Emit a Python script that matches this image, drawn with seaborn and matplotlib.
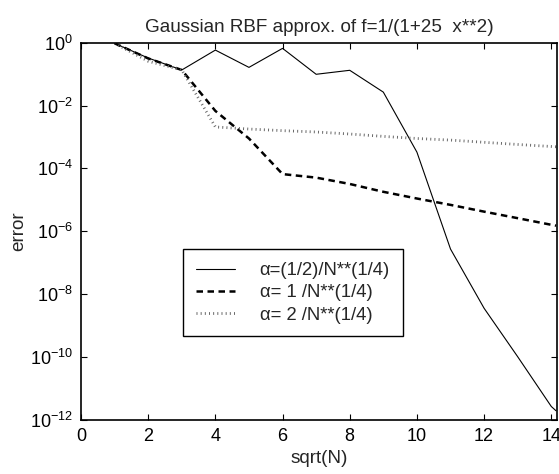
import numpy as np
import pandas as pd
import matplotlib
matplotlib.use("Agg")
import matplotlib.pyplot as plt
import seaborn as sns

# ---- data ----
x_vals = [1, 2, 3, 4, 5, 6, 7, 8, 9, 10, 11, 12, 13, 14, 14.14]
err_half = [0.97, 0.33, 0.137, 0.59, 0.166, 0.67, 0.10, 0.134, 0.027,
            3.3e-4, 2.7e-7, 3.5e-9, 1.0e-10, 2.6e-12, 1.9e-12]
err_one = [0.97, 0.32, 0.137, 6.8e-3, 9.0e-4, 6.6e-5, 5.1e-5, 3.2e-5, 1.8e-5,
           1.1e-5, 6.9e-6, 4.2e-6, 2.6e-6, 1.6e-6, 1.5e-6]
err_two = [0.97, 0.26, 0.137, 2.1e-3, 1.8e-3, 1.6e-3, 1.45e-3, 1.25e-3, 1.05e-3,
           9.0e-4, 8.0e-4, 6.8e-4, 5.8e-4, 5.0e-4, 4.9e-4]
labels = ["\u03b1=(1/2)/N**(1/4)", "\u03b1= 1 /N**(1/4)", "\u03b1= 2 /N**(1/4)"]
title = "Gaussian RBF approx. of f=1/(1+25  x**2)"
xlabel = "sqrt(N)"
ylabel = "error"
xticks = [0, 2, 4, 6, 8, 10, 12, 14]
yticks = [1e0, 1e-2, 1e-4, 1e-6, 1e-8, 1e-10, 1e-12]

df = pd.DataFrame({
    "x": x_vals * 3,
    "err": err_half + err_one + err_two,
    "series": [labels[0]] * len(x_vals) + [labels[1]] * len(x_vals) + [labels[2]] * len(x_vals),
})

sns.set_theme(style="ticks")
plt.rcParams["font.family"] = ["Liberation Sans", "DejaVu Sans"]
plt.rcParams["mathtext.fontset"] = "custom"
plt.rcParams["mathtext.rm"] = "Liberation Sans"
plt.rcParams["mathtext.it"] = "Liberation Sans:italic"
plt.rcParams["mathtext.default"] = "regular"

fig = plt.figure(figsize=(5.59, 4.74), dpi=100)
ax = fig.add_axes([81 / 559, 1 - 419.5 / 474, (557 - 81) / 559, (419.5 - 42.9) / 474])

styles = {
    labels[0]: dict(color="black", linewidth=0.8, linestyle="-"),
    labels[1]: dict(color="black", linewidth=1.8, dashes=(2.6, 1.8)),
    labels[2]: dict(color="0.4", linewidth=2.0, dashes=(0.35, 1.15)),
}
for lab in labels:
    sub = df[df["series"] == lab]
    sns.lineplot(data=sub, x="x", y="err", ax=ax, label=lab, **styles[lab])

ax.set_yscale("log")
ax.set_xlim(0, 14.17)
ax.set_ylim(1e-12, 1e0)
ax.set_xticks(xticks)
ax.set_yticks(yticks)
ax.yaxis.set_minor_locator(matplotlib.ticker.NullLocator())
ax.tick_params(direction="in", top=True, right=True, length=4, width=0.8,
               labelsize=13, colors="black", pad=6)
for s in ax.spines.values():
    s.set_linewidth(1.2)
    s.set_color("black")

ax.set_title(title, fontsize=13.6, pad=8)
ax.set_xlabel(xlabel, fontsize=13.6, labelpad=4)
ax.set_ylabel(ylabel, fontsize=13.6, labelpad=2)

leg = ax.legend(loc="upper left", bbox_to_anchor=(0.214, 0.452), fontsize=13.3,
                frameon=True, fancybox=False, edgecolor="black", framealpha=1,
                handlelength=2.1, handletextpad=1.35, labelspacing=0.28,
                borderpad=0.7, borderaxespad=0)
leg.get_frame().set_linewidth(1.0)

fig.savefig("out.png", dpi=100)
